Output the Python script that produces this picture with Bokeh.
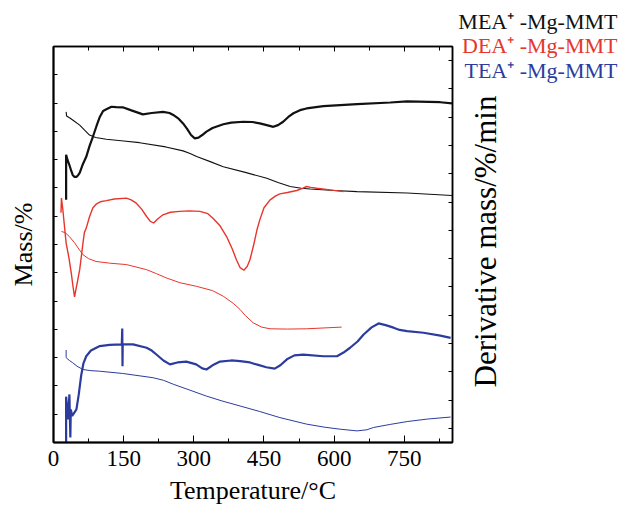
import math
from bokeh.plotting import figure
from bokeh.layouts import row
from bokeh.models import Range1d, LinearAxis, FixedTicker, Label, CustomLabelingPolicy
from bokeh.embed import file_html
from bokeh.resources import INLINE

# ---- data (temperature in °C, signal in arbitrary stacked units) ----
mea_dtg_t = [27, 27, 30, 34, 38, 41, 45, 49, 53, 56, 62, 70, 77, 84, 92, 99, 106, 113, 124, 134, 148, 165,
             191, 210, 234, 248, 256, 268, 277, 286, 294, 302, 310, 318, 327, 340, 363, 380, 406, 425, 441,
             458, 470, 480, 491, 502, 513, 527, 541, 577, 649, 720, 756, 827, 852]
mea_dtg_y = [8.58, 10.17, 9.99, 9.81, 9.60, 9.46, 9.39, 9.39, 9.46, 9.53, 9.81, 10.10, 10.48, 10.80, 11.19,
             11.51, 11.72, 11.78, 11.87, 11.86, 11.85, 11.75, 11.60, 11.65, 11.69, 11.65, 11.58, 11.44, 11.28,
             11.08, 10.87, 10.75, 10.78, 10.87, 10.99, 11.12, 11.25, 11.31, 11.34, 11.33, 11.28, 11.21, 11.16,
             11.22, 11.34, 11.51, 11.64, 11.75, 11.81, 11.89, 11.96, 12.02, 12.06, 12.03, 11.99]
mea_tg_t = [27, 28, 35, 41, 56, 66, 77, 90, 113, 150, 184, 240, 277, 292, 306, 335, 363, 410, 456, 480, 506,
            530, 549, 600, 649, 756, 852]
mea_tg_y = [11.69, 11.54, 11.47, 11.40, 11.22, 11.05, 10.87, 10.78, 10.72, 10.66, 10.60, 10.45, 10.31, 10.22,
            10.11, 9.93, 9.75, 9.55, 9.34, 9.19, 9.05, 8.99, 8.96, 8.91, 8.87, 8.82, 8.73]

dea_dtg_t = [16, 17, 20, 27, 33, 38, 42, 45, 48, 52, 56, 60, 63, 66, 70, 77, 84, 92, 100, 113, 130, 156, 166,
             177, 188, 199, 207, 214, 222, 234, 250, 270, 290, 313, 330, 341, 356, 370, 382, 391, 399, 407,
             414, 420, 428, 435, 441, 450, 463, 475, 484, 500, 520, 530, 541, 550, 563, 591, 620]
dea_dtg_y = [8.12, 8.64, 8.23, 7.05, 6.53, 5.99, 5.48, 5.15, 5.41, 5.76, 6.11, 6.64, 7.05, 7.42, 7.58, 7.98,
             8.29, 8.44, 8.51, 8.55, 8.61, 8.64, 8.58, 8.46, 8.26, 7.99, 7.82, 7.76, 7.89, 8.05, 8.14, 8.17,
             8.19, 8.17, 8.09, 7.93, 7.66, 7.28, 6.85, 6.46, 6.18, 6.09, 6.22, 6.46, 6.99, 7.52, 7.87, 8.30,
             8.58, 8.72, 8.79, 8.84, 8.91, 8.97, 9.05, 9.02, 8.99, 8.93, 8.87]
dea_tg_t = [17, 25, 34, 45, 55, 63, 75, 91, 120, 156, 199, 220, 241, 270, 306, 340, 363, 385, 399, 410, 427,
            445, 463, 500, 541, 616]
dea_tg_y = [7.46, 7.42, 7.28, 7.06, 6.82, 6.64, 6.50, 6.40, 6.34, 6.29, 6.11, 5.97, 5.82, 5.65, 5.52, 5.37,
            5.17, 4.91, 4.70, 4.49, 4.23, 4.08, 4.02, 4.01, 4.02, 4.08]

tea_dtg_t = [27, 27, 31, 34, 36, 37, 40, 49, 54, 59, 64, 70, 80, 99, 120, 146, 147, 147.5, 148, 170, 199,
             210, 220, 235, 249, 265, 284, 305, 318, 327, 340, 356, 380, 399, 420, 434, 455, 473, 485, 499,
             515, 534, 577, 606, 620, 634, 650, 663, 680, 695, 710, 727, 740, 756, 791, 827, 849]
tea_dtg_y = [-0.3, 1.62, 0.82, 1.70, 0.18, 1.17, 0.94, 1.17, 1.70, 2.35, 2.80, 3.05, 3.25, 3.41, 3.45, 3.47,
             4.03, 2.70, 3.47, 3.47, 3.35, 3.25, 3.11, 2.90, 2.76, 2.83, 2.86, 2.76, 2.62, 2.58, 2.73, 2.86,
             2.90, 2.88, 2.83, 2.76, 2.66, 2.61, 2.73, 2.94, 3.08, 3.11, 3.05, 3.05, 3.18, 3.35, 3.57, 3.82,
             4.07, 4.21, 4.15, 4.06, 3.98, 3.94, 3.88, 3.78, 3.70]
tea_tg_t = [27, 27, 34, 41, 50, 63, 80, 99, 148, 213, 235, 256, 290, 327, 360, 399, 440, 484, 541, 580, 613,
            649, 670, 684, 720, 756, 800, 849]
tea_tg_y = [3.27, 3.00, 2.90, 2.82, 2.70, 2.58, 2.54, 2.52, 2.44, 2.29, 2.20, 2.06, 1.86, 1.64, 1.47, 1.29,
            1.10, 0.88, 0.65, 0.54, 0.47, 0.41, 0.45, 0.53, 0.64, 0.74, 0.83, 0.90]

x_major = [0, 150, 300, 450, 600, 750]
x_minor = [75, 225, 375, 525, 675, 825]
left_ticks = list(range(0, 15))
right_ticks = [i + 0.5 for i in range(14)]

series_names = ["MEA\u207a -Mg-MMT", "DEA\u207a -Mg-MMT", "TEA\u207a -Mg-MMT"]

BLACK = "#111111"
RED = "#e8352b"
BLUE = "#2c3c9e"
FONT = "Liberation Serif"

MAIN_W = 457

p = figure(width=MAIN_W, height=507, output_backend="svg", toolbar_location=None,
           x_range=Range1d(0, 853), y_range=Range1d(0, 14),
           min_border_left=53, min_border_right=0, min_border_top=46, min_border_bottom=64,
           x_axis_location=None, y_axis_location=None)
p.frame_align = False
p.grid.visible = False
p.outline_line_color = "black"
p.outline_line_width = 1.5
p.background_fill_color = "white"
p.border_fill_color = "white"

# curves
p.line(mea_dtg_t, mea_dtg_y, color=BLACK, line_width=2.2)
p.line(mea_tg_t, mea_tg_y, color=BLACK, line_width=1.1)
p.line(dea_dtg_t, dea_dtg_y, color=RED, line_width=1.4)
p.line(dea_tg_t, dea_tg_y, color=RED, line_width=1.0)
p.line(tea_dtg_t, tea_dtg_y, color=BLUE, line_width=2.2)
p.line(tea_tg_t, tea_tg_y, color=BLUE, line_width=1.0)

def style(ax, labels=True):
    ax.axis_line_color = "black"
    ax.axis_line_width = 2
    ax.major_tick_in = 5
    ax.major_tick_out = 0
    ax.minor_tick_in = 0
    ax.minor_tick_out = 0
    ax.major_tick_line_color = "black"
    ax.major_label_text_font = FONT
    ax.major_label_text_font_size = "23px"
    ax.major_label_text_color = "black"
    ax.axis_label_text_font = FONT
    ax.axis_label_text_font_size = "26px"
    ax.axis_label_text_font_style = "normal"
    ax.axis_label_text_color = "black"
    if not labels:
        ax.major_label_text_font_size = "1px"
        ax.major_label_standoff = 0
        ax.axis_label_standoff = 0
        ax.major_label_policy = CustomLabelingPolicy(code="return new Set()")

# bottom axis
xb = LinearAxis(ticker=FixedTicker(ticks=x_major, minor_ticks=x_minor), axis_label="Temperature/\u00b0C")
style(xb)
xb.major_tick_in = 7
xb.minor_tick_in = 4
xb.minor_tick_line_color = "black"
xb.major_label_standoff = 8
xb.axis_label_standoff = 7
p.add_layout(xb, "below")

# top axis
xt = LinearAxis(ticker=FixedTicker(ticks=x_major, minor_ticks=x_minor))
style(xt, labels=False)
xt.major_tick_in = 5
xt.minor_tick_in = 4
xt.minor_tick_line_color = "black"
xt.axis_line_width = 1.5
p.add_layout(xt, "above")

# left axis
yl = LinearAxis(ticker=FixedTicker(ticks=left_ticks), axis_label="Mass/%")
style(yl, labels=False)
yl.major_tick_in = 4
yl.axis_label_standoff = 12
p.add_layout(yl, "left")

# right axis
yr = LinearAxis(ticker=FixedTicker(ticks=right_ticks))
style(yr, labels=False)
yr.major_tick_in = 4
yr.axis_line_width = 1.5
p.add_layout(yr, "right")

# side panel with the right-axis title and the series labels
SIDE_W = 622 - MAIN_W
s = figure(width=SIDE_W, height=507, output_backend="svg", toolbar_location=None,
           x_range=Range1d(0, SIDE_W), y_range=Range1d(0, 507),
           min_border=0, x_axis_location=None, y_axis_location=None)
s.frame_align = False
s.grid.visible = False
s.outline_line_color = None
s.background_fill_color = "white"
s.border_fill_color = "white"

s.add_layout(Label(x=485 - MAIN_W, y=507 - 241, text="Derivative mass/%/min", angle=math.pi / 2,
                   text_align="center", text_baseline="middle", text_font=FONT,
                   text_font_size="31px", text_color="black"))

for name, col, yy in zip(series_names, [BLACK, RED, BLUE], [21, 45, 70]):
    s.add_layout(Label(x=617 - MAIN_W, y=507 - yy, text=name, text_align="right", text_baseline="middle",
                       text_font=FONT, text_font_size="22px", text_color=col))

layout = row(p, s, spacing=0)
open("out.html", "w").write(file_html(layout, INLINE))
